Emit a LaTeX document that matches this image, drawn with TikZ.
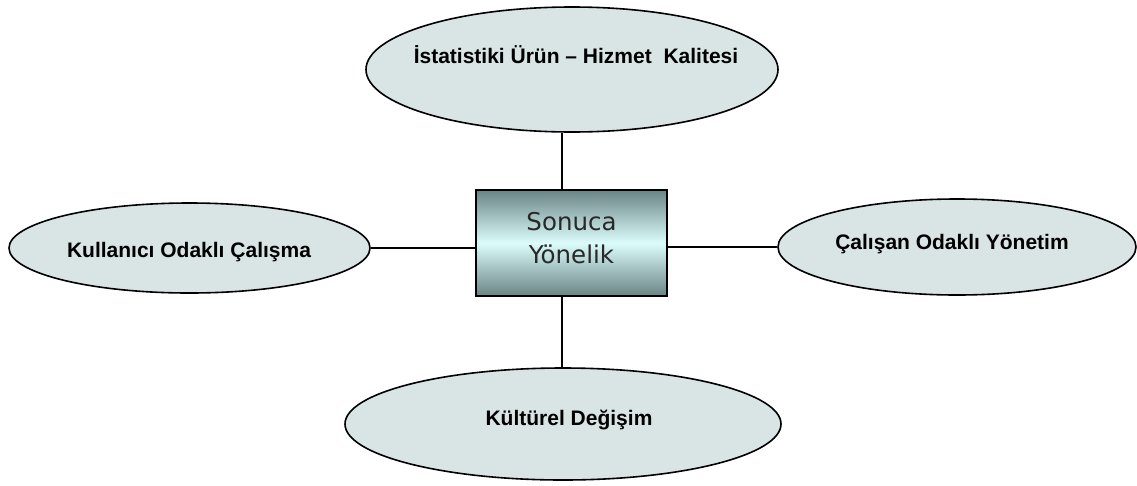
\documentclass[tikz,border=0pt]{standalone}
\usepackage{fontspec}
\setmainfont{Liberation Sans}
\newfontfamily\boxfont{DejaVu Sans}
\usetikzlibrary{shapes.geometric}
\definecolor{ellfill}{RGB}{217,228,229}
\definecolor{boxedge}{RGB}{106,132,132}
\definecolor{boxmid}{RGB}{220,252,252}
\definecolor{boxtext}{RGB}{40,40,40}
\begin{document}
\begin{tikzpicture}[x=1pt,y=-1pt,
  oval/.style={ellipse, draw=black, line width=1.6pt, fill=ellfill, inner sep=0pt},
  lbl/.style={font=\fontsize{21}{25}\selectfont\bfseries, anchor=base, inner sep=0pt},
  link/.style={draw=black, line width=1.6pt}]
\useasboundingbox (0,0) rectangle (1137,485);
\node[oval, minimum width=412pt, minimum height=125pt] (top) at (572,69.5) {};
\node[oval, minimum width=361pt, minimum height=90pt] (left) at (189.5,248) {};
\node[oval, minimum width=358pt, minimum height=96pt] (right) at (957,247) {};
\node[oval, minimum width=436pt, minimum height=112pt] (bottom) at (563,424) {};
\node[draw=black, line width=1.6pt, top color=boxedge, bottom color=boxedge, middle color=boxmid,
  minimum width=191pt, minimum height=106pt, inner sep=0pt] (box) at (571.5,243) {};
\node[align=center, text=boxtext, inner sep=0pt,
  font=\boxfont\fontsize{24.5}{33}\selectfont] (boxlbl) at (571.5,238.5) {Sonuca\\Yönelik};
\coordinate (vx) at (562,0);
\draw[link] (top.south -| vx) -- (box.north -| vx);
\draw[link] (box.south -| vx) -- (bottom.north -| vx);
\draw[link] (left.east) -- (left.east -| box.west);
\draw[link] (box.east |- right.west) -- (right.west);
\node[lbl] (tTop) at (576,63) {İstatistiki Ürün – Hizmet\ \ Kalitesi};
\node[lbl] (tLeft) at (189,257) {Kullanıcı Odaklı Çalışma};
\node[lbl] (tRight) at (952,249) {Çalışan Odaklı Yönetim};
\node[lbl] (tBot) at (569,425) {Kültürel Değişim};
\end{tikzpicture}
\end{document}
